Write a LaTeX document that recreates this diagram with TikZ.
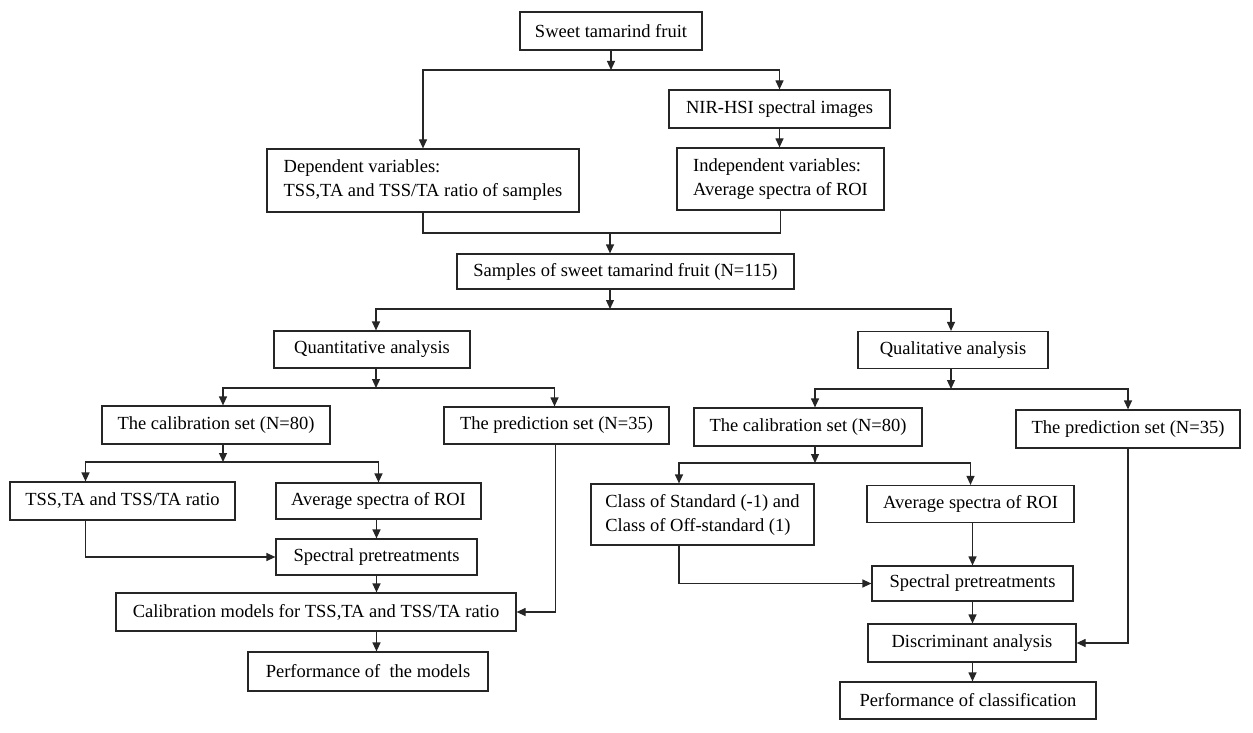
\documentclass[tikz,border=0pt]{standalone}
\usepackage{fontspec}
\setmainfont{Liberation Serif}
\usetikzlibrary{arrows.meta}
\begin{document}
\begin{tikzpicture}[x=1pt,y=-1pt,
  box/.style={draw=black!85, line width=1.2pt, fill=white, inner sep=0pt, align=center, font=\fontsize{18.5}{24}\selectfont},
  lbox/.style={box, align=left},
  link/.style={draw=black!85, line width=1.2pt},
  arr/.style={link, -{Triangle[length=9pt,width=8pt]}}]
\fill[white] (0,0) rectangle (1253,733);
\useasboundingbox (0,0) rectangle (1253,733);

% top part
\node[box, minimum width=182, minimum height=38] (sweet) at (611,31) {Sweet tamarind fruit};
\node[box, minimum width=221, minimum height=38] (nir) at (779.5,109) {NIR-HSI spectral images};
\node[lbox, minimum width=312, minimum height=63] (dep) at (423,180.5) {Dependent variables:\\TSS,TA and TSS/TA ratio of samples};
\node[lbox, minimum width=207, minimum height=62] (ind) at (780.5,179) {Independent variables:\\Average spectra of ROI};
\node[box, minimum width=337, minimum height=35] (samp) at (625.5,271.5) {Samples of sweet tamarind fruit (N=115)};

% second level
\node[box, minimum width=196, minimum height=37] (quant) at (372,349.5) {Quantitative analysis};
\node[box, minimum width=190, minimum height=37] (qual) at (953,350) {Qualitative analysis};

\node[box, minimum width=228, minimum height=38] (lcal) at (216,425) {The calibration set (N=80)};
\node[box, minimum width=225, minimum height=37] (lpred) at (556.5,425.5) {The prediction set (N=35)};
\node[box, minimum width=228, minimum height=38] (rcal) at (808,427) {The calibration set (N=80)};
\node[box, minimum width=224, minimum height=38] (rpred) at (1128,429) {The prediction set (N=35)};

% left branch
\node[box, minimum width=225, minimum height=38] (tss) at (122.5,501) {TSS,TA and TSS/TA ratio};
\node[box, minimum width=205, minimum height=36] (lavg) at (378.5,501) {Average spectra of ROI};
\node[box, minimum width=201, minimum height=36] (lspec) at (376.5,557) {Spectral pretreatments};
\node[box, minimum width=400, minimum height=38] (calmod) at (316,612) {Calibration models for TSS,TA and TSS/TA ratio};
\node[box, minimum width=240, minimum height=39] (perfm) at (368,671.5) {Performance of\ \ the models};

% right branch
\node[lbox, minimum width=223, minimum height=61] (cls) at (702.5,514.5) {Class of Standard (-1) and\\Class of Off-standard (1)};
\node[box, minimum width=207, minimum height=37] (ravg) at (970.5,504) {Average spectra of ROI};
\node[box, minimum width=201, minimum height=35] (rspec) at (972.5,583.5) {Spectral pretreatments};
\node[box, minimum width=208, minimum height=38] (disc) at (972,643) {Discriminant analysis};
\node[box, minimum width=256, minimum height=37] (perfc) at (968,700.5) {Performance of classification};

% junctions
\coordinate (t1) at (611,70);
\coordinate (m1) at (610,233);
\coordinate (s1) at (610,309);
\coordinate (q1) at (376,388);
\coordinate (r1) at (951,389);
\coordinate (c1) at (223,462);
\coordinate (c2) at (815,463);

% connectors top
\draw[arr] (sweet.south) -- (t1);
\draw[arr] (t1) -| (dep.north);
\draw[arr] (t1) -| (nir.north);
\draw[arr] (nir.south) -- (nir.south |- ind.north);
\draw[link] (dep.south) |- (ind.south |- m1) -- (ind.south);
\draw[arr] (m1) -- (m1 |- samp.north);
\draw[arr] (samp.south -| s1) -- (s1);
\draw[arr] (s1) -| ([xshift=4pt]quant.north);
\draw[arr] (s1) -| ([xshift=-2pt]qual.north);

% quantitative split
\draw[arr] ([xshift=4pt]quant.south) -- (q1);
\draw[arr] (q1) -| ([xshift=7pt]lcal.north);
\draw[arr] (q1) -| ([xshift=-2pt]lpred.north);

% qualitative split
\draw[arr] ([xshift=-2pt]qual.south) -- (r1);
\draw[arr] (r1) -| ([xshift=7pt]rcal.north);
\draw[arr] (r1) -| (rpred.north);

% left calibration split
\draw[arr] ([xshift=7pt]lcal.south) -- (c1);
\draw[arr] (c1) -| ([xshift=-37pt]tss.north);
\draw[arr] (c1) -| (lavg.north);
\draw[arr] ([xshift=-37pt]tss.south) |- (lspec.west);
\draw[arr] (lspec.north |- lavg.south) -- (lspec.north);
\draw[arr] (lspec.south) -- (lspec.south |- calmod.north);
\draw[arr] (lspec.south |- calmod.south) -- (lspec.south |- perfm.north);
\draw[arr] ([xshift=-1pt]lpred.south) |- (calmod.east);

% right calibration split
\draw[arr] ([xshift=7pt]rcal.south) -- (c2);
\draw[arr] (c2) -| ([xshift=-23.5pt]cls.north);
\draw[arr] (c2) -| (ravg.north);
\draw[arr] ([xshift=-23.5pt]cls.south) |- (rspec.west);
\draw[arr] (rspec.north |- ravg.south) -- (rspec.north);
\draw[arr] (rspec.south) -- (rspec.south |- disc.north);
\draw[arr] (rspec.south |- disc.south) -- (rspec.south |- perfc.north);
\draw[arr] (rpred.south) |- (disc.east);
\end{tikzpicture}
\end{document}
